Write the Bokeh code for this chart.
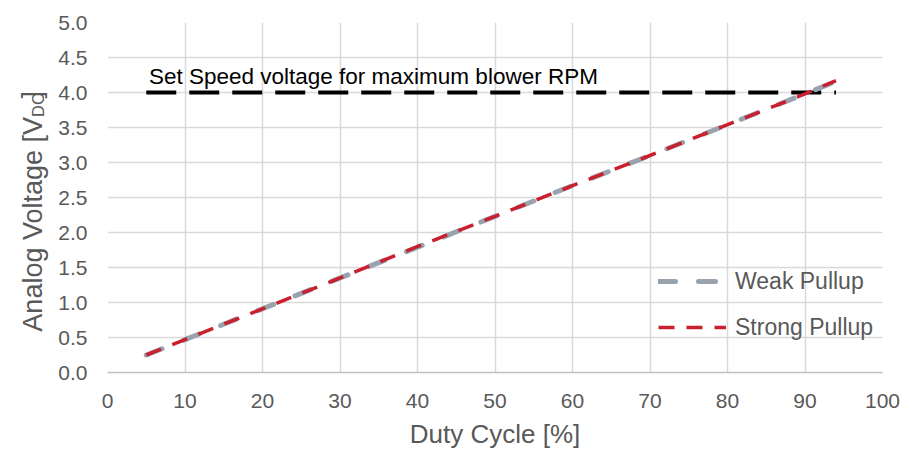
import math
from bokeh.plotting import figure
from bokeh.layouts import row
from bokeh.models import Label, Legend, LegendItem, FixedTicker, NumeralTickFormatter
from bokeh.core.properties import value
from bokeh.embed import file_html
from bokeh.resources import INLINE

# ---- data ----
duty = [5, 10, 20, 30, 40, 50, 60, 70, 80, 90, 94]
weak_pullup = [0.25, 0.47, 0.91, 1.35, 1.79, 2.23, 2.67, 3.10, 3.54, 3.98, 4.16]
strong_pullup = [0.25, 0.47, 0.91, 1.35, 1.80, 2.23, 2.67, 3.10, 3.54, 3.98, 4.17]
setspeed_duty = [5, 94]
setspeed_volt = [4.0, 4.0]
x_ticks = [0, 10, 20, 30, 40, 50, 60, 70, 80, 90, 100]
y_ticks = [0.0, 0.5, 1.0, 1.5, 2.0, 2.5, 3.0, 3.5, 4.0, 4.5, 5.0]
series_names = ["Weak Pullup", "Strong Pullup"]
annotation_text = "Set Speed voltage for maximum blower RPM"
x_title = "Duty Cycle [%]"
y_title_parts = ["Analog Voltage [V", "DC", "]"]

FONT = "Liberation Sans"
GREY_TXT = "#595959"

# ---- y-axis title strip (pixel coordinate space) ----
W_STRIP, H = 50, 452
ylab = figure(width=W_STRIP, height=H, x_range=(0, W_STRIP), y_range=(0, H),
              output_backend="svg", toolbar_location=None,
              x_axis_type=None, y_axis_type=None,
              min_border=0, min_border_left=0, min_border_right=0,
              min_border_top=0, min_border_bottom=0)
ylab.outline_line_color = None
ylab.grid.visible = False
ylab.text(x=[32], y=[H - 122], text=[y_title_parts[0]], angle=math.pi / 2,
          text_align="right", text_baseline="alphabetic",
          text_font=value(FONT), text_font_size="27px", text_color=GREY_TXT)
ylab.text(x=[37], y=[H - 122], text=[y_title_parts[1]], angle=math.pi / 2,
          text_align="left", text_baseline="alphabetic",
          text_font=value(FONT), text_font_size="16.5px", text_color=GREY_TXT)
ylab.text(x=[31], y=[H - 98], text=[y_title_parts[2]], angle=math.pi / 2,
          text_align="left", text_baseline="alphabetic",
          text_font=value(FONT), text_font_size="27px", text_color=GREY_TXT)

# ---- main chart ----
p = figure(width=904 - W_STRIP, height=H, x_range=(0, 100), y_range=(0, 5),
           output_backend="svg", toolbar_location=None,
           min_border_left=107 - W_STRIP, min_border_right=22,
           min_border_top=22, min_border_bottom=80)
p.outline_line_color = None

p.xaxis.ticker = FixedTicker(ticks=x_ticks)
p.yaxis.ticker = FixedTicker(ticks=y_ticks)
p.yaxis.formatter = NumeralTickFormatter(format="0.0")
for ax in (p.xaxis, p.yaxis):
    ax.major_tick_line_color = None
    ax.minor_tick_line_color = None
    ax.major_tick_out = 0
    ax.major_tick_in = 0
    ax.minor_tick_out = 0
    ax.major_label_text_font = FONT
    ax.major_label_text_font_size = "21px"
    ax.major_label_text_color = GREY_TXT
p.yaxis.axis_line_color = None
p.xaxis.axis_line_color = "#BFBFBF"
p.xaxis.axis_line_width = 1.5
p.yaxis.major_label_standoff = 20
p.xaxis.major_label_standoff = 21

p.xaxis.axis_label = x_title
p.xaxis.axis_label_text_font = FONT
p.xaxis.axis_label_text_font_size = "26px"
p.xaxis.axis_label_text_font_style = "normal"
p.xaxis.axis_label_text_color = GREY_TXT
p.xaxis.axis_label_standoff = 8

p.xgrid.grid_line_color = "#D9D9D9"
p.ygrid.grid_line_color = "#D9D9D9"
p.xgrid.grid_line_width = 1.5
p.ygrid.grid_line_width = 1.5

# set speed line
p.line(setspeed_duty, setspeed_volt, line_color="black", line_width=4, line_dash="30 13")

r_weak = p.line(duty, weak_pullup, line_color="#98A3AE", line_width=5,
                line_dash="17 23", line_cap="round")
r_strong = p.line(duty, strong_pullup, line_color="#C9202F", line_width=3.5,
                  line_dash="16 12")

legend = Legend(items=[LegendItem(label=series_names[0], renderers=[r_weak]),
                       LegendItem(label=series_names[1], renderers=[r_strong])],
                location=(551, 30), padding=0, margin=0,
                border_line_color=None, background_fill_alpha=0,
                glyph_width=68, glyph_height=30, label_height=30,
                label_standoff=9, spacing=16,
                label_text_font=FONT, label_text_font_size="23px",
                label_text_color=GREY_TXT)
p.add_layout(legend)

p.add_layout(Label(x=5.35, y=4.23, text=annotation_text, text_align="left",
                   text_baseline="alphabetic", text_font=FONT,
                   text_font_size="22.5px", text_color="black"))

layout = row(ylab, p, spacing=0)
open("out.html", "w").write(file_html(layout, INLINE))
